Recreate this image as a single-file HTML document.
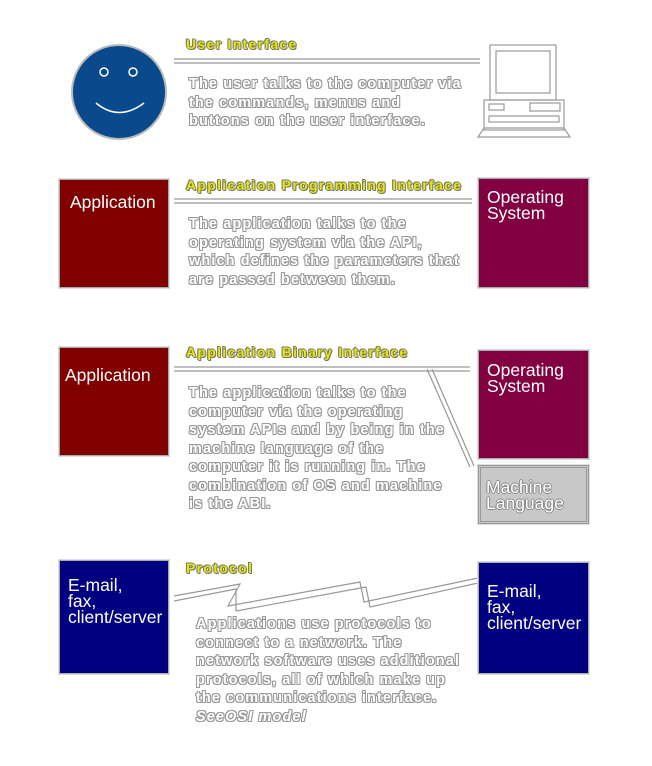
<!DOCTYPE html>
<html><head><style>
body{margin:0;width:652px;height:766px;background:#fff;position:relative;overflow:hidden;font-family:"Liberation Sans",sans-serif}
.t{position:absolute;font-size:14.5px;font-weight:bold;line-height:18.5px;color:#fff;letter-spacing:1.1px;
text-shadow:1px 0 #999,-1px 0 #999,0 1px #999,0 -1px #999,1px 1px #999,-1px -1px #999,1px -1px #999,-1px 1px #999;white-space:nowrap}
.h{position:absolute;font-size:14px;font-weight:bold;color:#e8e800;letter-spacing:1.3px;
text-shadow:1px 0 #777,-1px 0 #777,0 1px #777,0 -1px #777,1px 1px #777,-1px -1px #777;white-space:nowrap}
.b{position:absolute;box-sizing:border-box;border:1px solid #aaa;outline:1px solid #ddd;color:#fff;font-size:17.5px;line-height:16px;padding:0 0 0 8px;white-space:nowrap;overflow:hidden}
</style></head><body>
<svg width="652" height="766" style="position:absolute;left:0;top:0">
<circle cx="119" cy="92" r="47" fill="#0a4a8c" stroke="#bbb" stroke-width="2"/>
<ellipse cx="104" cy="72" rx="4" ry="4" fill="none" stroke="#fff" stroke-width="1.5"/>
<ellipse cx="133" cy="72" rx="4" ry="4" fill="none" stroke="#fff" stroke-width="1.5"/>
<path d="M96 103 Q119 122 144 103" fill="none" stroke="#fff" stroke-width="1.5"/>
<g fill="none" stroke="#999" stroke-width="1.2">
<rect x="490" y="45" width="66" height="55"/><rect x="496" y="51" width="54" height="42"/>
<rect x="484" y="100" width="80" height="30"/><rect x="489" y="104" width="15" height="6"/>
<rect x="530" y="103" width="30" height="8"/><rect x="489" y="116" width="70" height="6"/>
<path d="M478 137 L484 128 L564 128 L570 137 Z"/>
<line x1="174" y1="59" x2="480" y2="59"/><line x1="174" y1="63" x2="480" y2="63"/>
<line x1="174" y1="199" x2="472" y2="199"/><line x1="174" y1="203" x2="472" y2="203"/>
<line x1="174" y1="367" x2="470" y2="367"/><line x1="174" y1="371" x2="470" y2="371"/>
<line x1="427" y1="369" x2="470" y2="467"/><line x1="432" y1="369" x2="474" y2="466"/>
<polyline points="174,596 240,584 228,606 360,582 364,602 478,578"/>
<polyline points="174,601 236,589 236,611 366,587 370,607 478,583"/>
</g>
</svg>
<div class="h" style="left:186px;top:36px">User Interface</div>
<div class="t" style="left:189px;top:75px">The user talks to the computer via<br>the commands, menus and<br>buttons on the user interface.</div>
<div class="b" style="left:59px;top:179px;width:110px;height:109px;background:#800000;padding-top:14px;padding-left:10px">Application</div>
<div class="b" style="left:478px;top:178px;width:111px;height:110px;background:#800040;padding-top:10px">Operating<br>System</div>
<div class="h" style="left:186px;top:177px">Application Programming Interface</div>
<div class="t" style="left:189px;top:215px">The application talks to the<br>operating system via the API,<br>which defines the parameters that<br>are passed between them.</div>
<div class="b" style="left:59px;top:347px;width:110px;height:109px;background:#800000;padding-top:19px;padding-left:5px">Application</div>
<div class="b" style="left:478px;top:350px;width:111px;height:109px;background:#800040;padding-top:11px">Operating<br>System</div>
<div class="b" style="left:478px;top:465px;width:111px;height:59px;background:#c8c8c8;border:3px double #999;padding-top:11px;padding-left:5px;text-shadow:1px 0 #888,-1px 0 #888,0 1px #888,0 -1px #888">Machine<br>Language</div>
<div class="h" style="left:186px;top:344px">Application Binary Interface</div>
<div class="t" style="left:189px;top:384px">The application talks to the<br>computer via the operating<br>system APIs and by being in the<br>machine language of the<br>computer it is running in.  The<br>combination of OS and machine<br>is the ABI.</div>
<div class="b" style="left:59px;top:560px;width:110px;height:114px;background:#000080;padding-top:16px">E-mail,<br>fax,<br>client/server</div>
<div class="b" style="left:478px;top:562px;width:111px;height:112px;background:#000080;padding-top:20px">E-mail,<br>fax,<br>client/server</div>
<div class="h" style="left:186px;top:560px">Protocol</div>
<div class="t" style="left:196px;top:615px">Applications use protocols to<br>connect to a network.   The<br>network software uses additional<br>protocols, all of which make up<br>the communications interface.<br><i>SeeOSI model</i></div>
</body></html>
